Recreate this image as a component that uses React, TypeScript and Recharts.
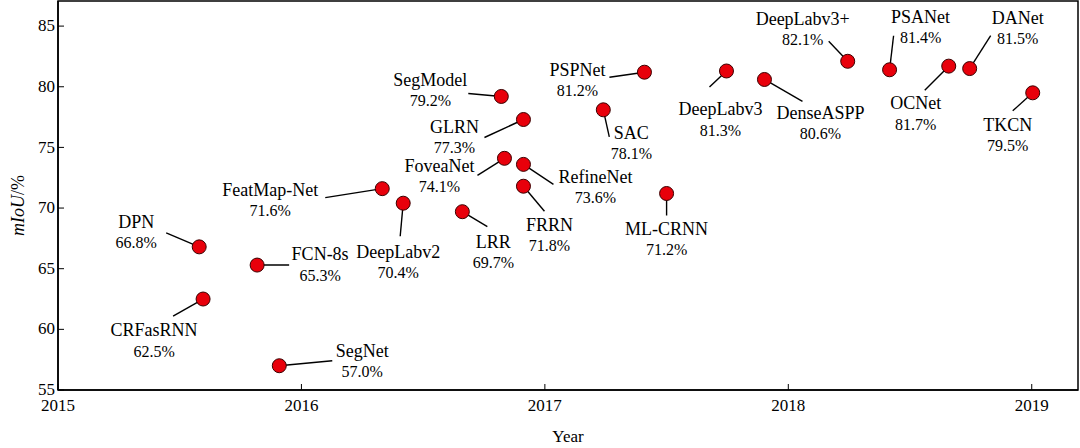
import React from "react";
import {
  ScatterChart,
  Scatter,
  XAxis,
  YAxis,
  ReferenceArea,
} from "recharts";

// ---- Data ----
const modelNames = [
  "DPN", "CRFasRNN", "FCN-8s", "SegNet", "FeatMap-Net", "DeepLabv2", "LRR",
  "FoveaNet", "SegModel", "GLRN", "RefineNet", "FRRN", "SAC", "PSPNet",
  "ML-CRNN", "DeepLabv3", "DenseASPP", "DeepLabv3+", "PSANet", "OCNet",
  "DANet", "TKCN",
];
const years = [
  2015.58, 2015.596, 2015.818, 2015.909, 2016.332, 2016.418, 2016.661,
  2016.834, 2016.821, 2016.912, 2016.912, 2016.912, 2017.24, 2017.409,
  2017.5, 2017.746, 2017.902, 2018.244, 2018.416, 2018.659, 2018.745, 2019.004,
];
const miou = [
  66.8, 62.5, 65.3, 57.0, 71.6, 70.4, 69.7, 74.1, 79.2, 77.3, 73.6, 71.8,
  78.1, 81.2, 71.2, 81.3, 80.6, 82.1, 81.4, 81.7, 81.5, 79.5,
];
const xTicks = [2015, 2016, 2017, 2018, 2019];
const yTicks = [55, 60, 65, 70, 75, 80, 85];

// ---- Label layout (pixel offsets from each point: name centre, leader end) ----
const labelLayout: Record<string, { dx: number; dy: number; lx: number; ly: number }> = {
  "DPN": { dx: -63, dy: -25, lx: -33, ly: -14 },
  "CRFasRNN": { dx: -49, dy: 31, lx: -30, ly: 17 },
  "FCN-8s": { dx: 63, dy: -11, lx: 32, ly: 0 },
  "SegNet": { dx: 83, dy: -15, lx: 53, ly: -5 },
  "FeatMap-Net": { dx: -112, dy: 1, lx: -57, ly: 9 },
  "DeepLabv2": { dx: -5, dy: 48, lx: -3, ly: 33 },
  "LRR": { dx: 31, dy: 30, lx: 25, ly: 15 },
  "FoveaNet": { dx: -65, dy: 7, lx: -27, ly: 17 },
  "SegModel": { dx: -71, dy: -17, lx: -33, ly: -3 },
  "GLRN": { dx: -69, dy: 7, lx: -39, ly: 18 },
  "RefineNet": { dx: 72, dy: 12, lx: 30, ly: 20 },
  "FRRN": { dx: 26, dy: 38, lx: 21, ly: 25 },
  "SAC": { dx: 28, dy: 23, lx: 6, ly: 27 },
  "PSPNet": { dx: -67, dy: -3, lx: -35, ly: 5 },
  "ML-CRNN": { dx: 0, dy: 35, lx: 0, ly: 22 },
  "DeepLabv3": { dx: -6, dy: 38, lx: -17, ly: 16 },
  "DenseASPP": { dx: 56, dy: 33, lx: 38, ly: 22 },
  "DeepLabv3+": { dx: -45, dy: -43, lx: -19, ly: -20 },
  "PSANet": { dx: 31, dy: -53, lx: 4, ly: -34 },
  "OCNet": { dx: -33, dy: 37, lx: -24, ly: 24 },
  "DANet": { dx: 48, dy: -51, lx: 21, ly: -33 },
  "TKCN": { dx: -25, dy: 32, lx: -20, ly: 18 },
};

const data = modelNames.map((name, i) => ({ name, year: years[i], miou: miou[i] }));

const FONT = "'Liberation Serif', 'Times New Roman', serif";
const FS = 17;

const PointShape = (props: any) => {
  const { cx, cy, payload } = props;
  if (cx == null || cy == null) return null;
  const l = labelLayout[payload.name] || { dx: 0, dy: -30, lx: 0, ly: -15 };
  return (
    <g>
      <line x1={cx} y1={cy} x2={cx + l.lx} y2={cy + l.ly} stroke="#000" strokeWidth={1.4} />
      <circle cx={cx} cy={cy} r={7} fill="#e8000b" stroke="#3a0000" strokeWidth={1} />
      <text
        x={cx + l.dx}
        y={cy + l.dy}
        dy="0.35em"
        textAnchor="middle"
        fontFamily={FONT}
        fontSize={18}
        fill="#000"
      >
        {payload.name}
      </text>
      <text
        x={cx + l.dx}
        y={cy + l.dy + 21}
        dy="0.35em"
        textAnchor="middle"
        fontFamily={FONT}
        fontSize={16}
        fill="#000"
      >
        {payload.miou.toFixed(1) + "%"}
      </text>
    </g>
  );
};

const X_MARGIN = 9;
const XTick = (props: any) => {
  const { x, y, payload } = props;
  const axisY = y - X_MARGIN;
  return (
    <g>
      <line x1={x} y1={axisY} x2={x} y2={axisY - 6} stroke="#000" strokeWidth={1} />
      <text x={x} y={y} dy="0.71em" textAnchor="middle" fontFamily={FONT} fontSize={FS} fill="#000">
        {payload.value}
      </text>
    </g>
  );
};

const Y_MARGIN = 3;
const YTick = (props: any) => {
  const { x, y, payload } = props;
  const axisX = x + Y_MARGIN;
  return (
    <g>
      <line x1={axisX} y1={y} x2={axisX + 6} y2={y} stroke="#000" strokeWidth={1} />
      <text x={x} y={y} dy="0.3em" textAnchor="end" fontFamily={FONT} fontSize={FS} fill="#000">
        {payload.value}
      </text>
    </g>
  );
};

const X_MIN = 2015;
const X_MAX = 2019.19;
const Y_MIN = 55;
const Y_MAX = 87.07;

export default function App() {
  return (
    <div style={{ position: "absolute", left: 0, top: 0, background: "#fff" }}>
      <ScatterChart
        width={1080}
        height={448}
        margin={{ top: 1, right: 2, left: 8, bottom: 28 }}
      >
        <XAxis
          type="number"
          dataKey="year"
          domain={[X_MIN, X_MAX]}
          ticks={xTicks}
          allowDataOverflow
          tickLine={false}
          tickSize={0}
          tickMargin={X_MARGIN}
          tick={<XTick />}
          axisLine={{ stroke: "#000", strokeWidth: 1.5 }}
          height={30}
          label={{
            value: "Year",
            position: "insideBottom",
            offset: -22,
            style: { fontFamily: FONT, fontSize: FS, fill: "#000" },
          }}
        />
        <YAxis
          type="number"
          dataKey="miou"
          domain={[Y_MIN, Y_MAX]}
          ticks={yTicks}
          allowDataOverflow
          tickLine={false}
          tickSize={0}
          tickMargin={Y_MARGIN}
          tick={<YTick />}
          axisLine={{ stroke: "#000", strokeWidth: 1.5 }}
          width={50}
          label={(p: any) => {
            const vb = p.viewBox || {};
            const cy = (vb.y ?? 1) + (vb.height ?? 389) / 2 + 10;
            return (
              <text
                x={18}
                y={cy}
                transform={`rotate(-90, 18, ${cy})`}
                textAnchor="middle"
                dy="0.35em"
                fontFamily={FONT}
                fontSize={18}
                fill="#000"
              >
                <tspan fontStyle="italic">mIoU</tspan>
                <tspan>/%</tspan>
              </text>
            );
          }}
        />
        <ReferenceArea
          x1={X_MIN}
          x2={X_MAX}
          y1={Y_MIN}
          y2={Y_MAX}
          fill="none"
          stroke="#000"
          strokeWidth={1.5}
          ifOverflow="visible"
        />
        <Scatter data={data} shape={PointShape} isAnimationActive={false} />
      </ScatterChart>
    </div>
  );
}
